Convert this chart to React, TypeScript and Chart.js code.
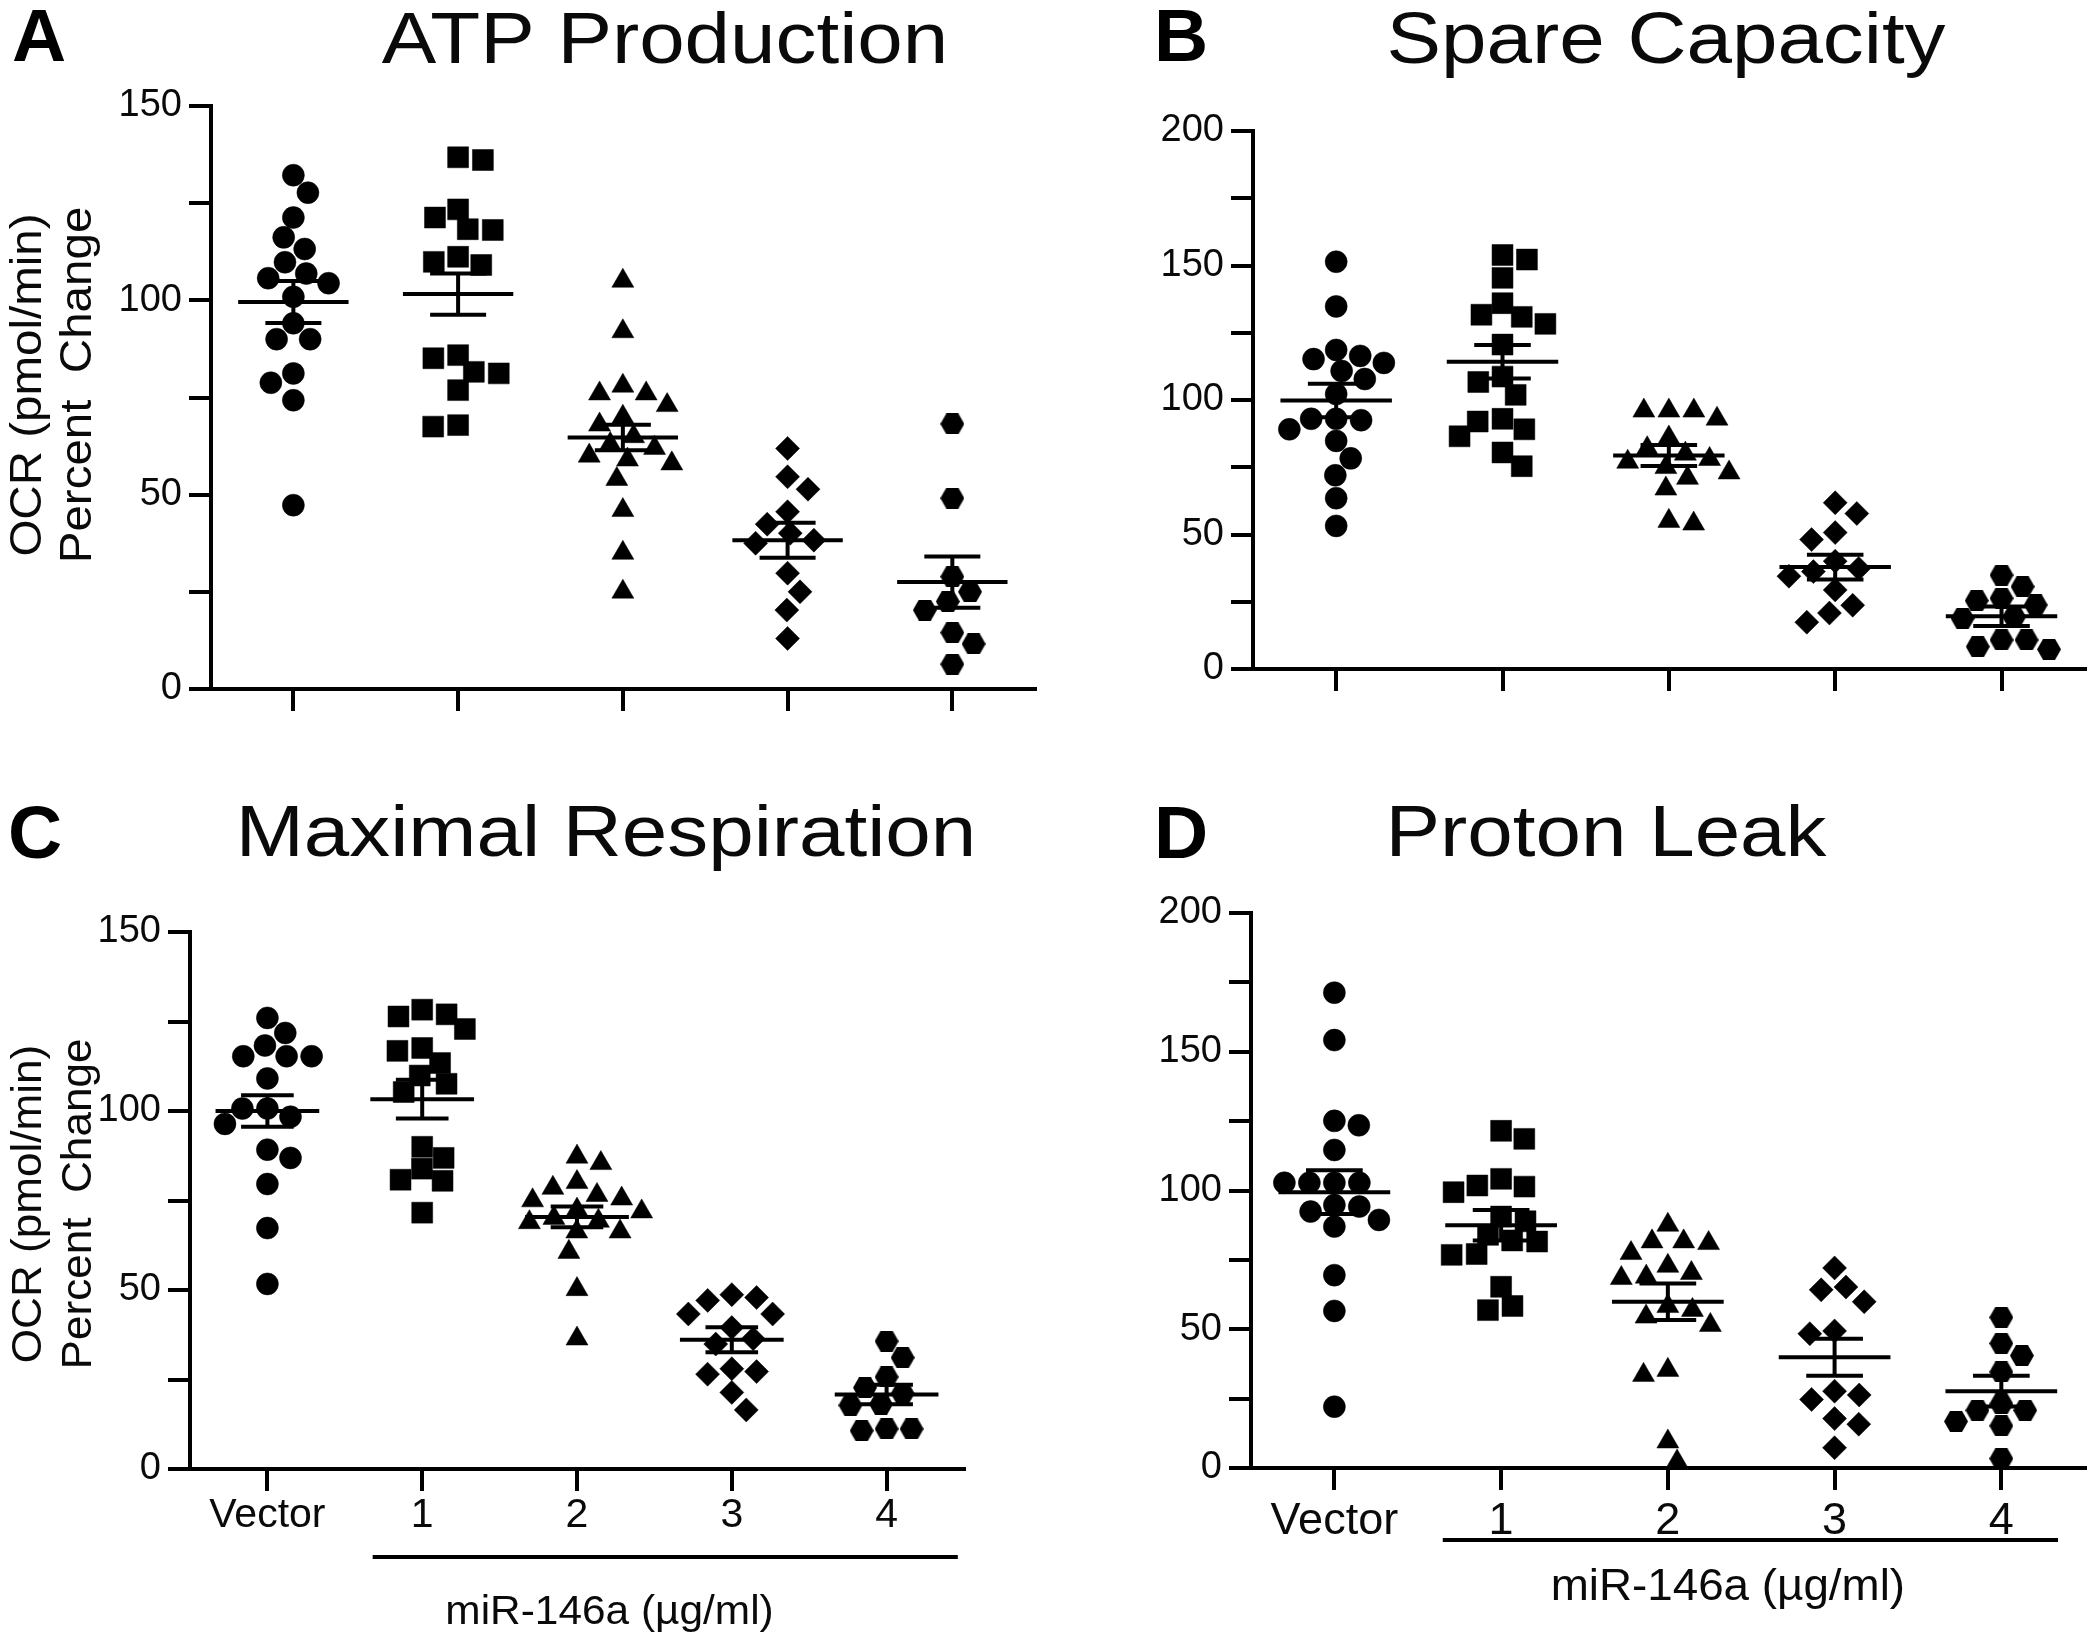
import React, { useEffect, useRef } from 'react';
import { Chart, registerables } from 'chart.js';

Chart.register(...registerables);

const FONT = "'Liberation Sans', Arial, Helvetica, sans-serif";

// ---------- categories & text ----------
const groupLabels = ['Vector', '1', '2', '3', '4'];
const doseLabel = 'miR-146a (µg/ml)';
const yTitleLines = ['OCR (pmol/min)', 'Percent  Change'];
const yTicks150 = [0, 25, 50, 75, 100, 125, 150];
const yTicks200 = [0, 25, 50, 75, 100, 125, 150, 175, 200];

// ---------- A: ATP Production ----------
const atpVector = [132.2, 127.7, 121.3, 116.2, 113.2, 109.8, 106.9, 105.7, 104.4, 100.9, 94.1, 90.0, 90.0, 81.2, 78.8, 74.3, 47.3];
const atpDose1 = [136.8, 136.1, 123.4, 121.3, 118.3, 118.1, 111.2, 109.9, 109.1, 85.9, 85.1, 81.6, 81.2, 76.9, 67.9, 67.5];
const atpDose2 = [105, 92, 78, 76, 76, 73, 70, 68, 65, 63, 62, 60, 59, 58, 54, 46, 35, 25];
const atpDose3 = [61.9, 54.6, 51.4, 45.6, 42.4, 40.1, 38.3, 37.5, 29.8, 25.0, 20.3, 13.0];
const atpDose4 = [68.2, 49.1, 28.9, 25.0, 22.5, 20.3, 14.5, 11.6, 6.4];
const atpMean = [99.6, 101.6, 64.7, 38.3, 27.5];
const atpSem = [5.4, 5.3, 3.3, 4.5, 6.6];

// ---------- B: Spare Capacity ----------
const spareVector = [151.4, 134.8, 118.6, 116.4, 115.2, 113.8, 110.8, 107.8, 102.2, 93.0, 93.0, 92.5, 89.1, 84.8, 78.3, 72.0, 63.5, 53.2];
const spareDose1 = [153.9, 152.2, 145.4, 136.0, 131.7, 130.9, 128.3, 120.6, 108.7, 106.7, 101.9, 93.0, 92.0, 89.1, 86.5, 80.5, 75.4];
const spareDose2 = [96, 96, 96, 93, 86, 82, 80, 78, 77, 75, 73, 71, 67, 55, 54];
const spareDose3 = [61.8, 57.8, 50.7, 48.1, 40.1, 37.4, 36.2, 34.5, 29.4, 23.7, 20.8, 17.4];
const spareDose4 = [34.9, 30.6, 26.3, 25.4, 23.8, 19.4, 18.8, 10.8, 10.8, 8.3, 7.3];
const spareMean = [99.8, 114.2, 79.4, 37.9, 19.6];
const spareSem = [6.2, 6.2, 3.9, 4.6, 3.6];

// ---------- C: Maximal Respiration ----------
const maxVector = [126.0, 121.8, 118.3, 115.3, 115.3, 115.3, 109.1, 100.7, 100.7, 98.4, 96.4, 89.2, 86.9, 79.6, 67.3, 51.7];
const maxDose1 = [128.3, 127.0, 126.4, 122.9, 117.6, 116.8, 113.4, 109.9, 107.6, 105.3, 90.0, 86.9, 83.9, 80.8, 80.5, 71.6];
const maxDose2 = [87.2, 85.4, 80.1, 78.5, 76.5, 75.5, 75.0, 72.4, 71.9, 70.1, 69.3, 68.9, 66.3, 66.3, 60.6, 50.2, 36.4];
const maxDose3 = [48.7, 47.9, 47.1, 43.3, 43.3, 39.5, 36.4, 34.9, 28.0, 27.2, 26.5, 21.4, 16.5];
const maxDose4 = [35.7, 31.1, 25.7, 22.7, 21.1, 18.1, 17.8, 11.2, 11.2, 10.7];
const maxMean = [100.0, 103.3, 70.4, 36.1, 20.8];
const maxSem = [4.4, 5.4, 2.9, 3.5, 2.7];

// ---------- D: Proton Leak ----------
const leakVector = [171.3, 154.2, 125.1, 123.5, 114.6, 102.8, 102.8, 102.8, 102.8, 94.8, 94.2, 92.4, 89.4, 87.0, 69.5, 56.6, 22.1];
const leakDose1 = [121.5, 118.6, 104.2, 101.8, 101.4, 99.4, 90.6, 88.9, 84.0, 82.0, 81.6, 77.1, 76.8, 65.3, 58.4, 56.9];
const leakDose2 = [87.6, 81.6, 81.6, 81.0, 77.4, 72.8, 70.2, 68.9, 68.4, 58.3, 56.9, 54.5, 51.5, 35.3, 33.5, 9.5, 2.3];
const leakDose3 = [72.1, 65.2, 64.2, 59.9, 49.4, 48.4, 27.7, 26.3, 24.7, 17.8, 15.8, 7.3];
const leakDose4 = [54.3, 44.9, 40.5, 34.6, 23.1, 20.8, 20.8, 16.8, 15.2, 3.4];
const leakMean = [99.4, 87.5, 59.9, 39.9, 27.7];
const leakSem = [7.9, 5.5, 6.6, 6.7, 5.5];

// ---------- layout (positions/sizes/styles) ----------
type Panel = {
  letter: string; title: string;
  series: number[][]; mean: number[]; sem: number[];
  yMax: number; yTicks: number[];
  canvas: { left: number; top: number; w: number; h: number };
  plot: { l: number; t: number; r: number; b: number };
  letterPos: { x: number; y: number };
  titlePos: { cx: number; y: number };
  yTitle?: { cy: number; x1: number; x2: number; size: number; sx: number };
  xLabels?: { size: number; pad: number };
  bracket?: { from: number; to: number; dy: number; textAt: number; textDy: number; size: number; sx: number };
};

const panels: Panel[] = [
  {
    letter: 'A', title: 'ATP Production',
    series: [atpVector, atpDose1, atpDose2, atpDose3, atpDose4], mean: atpMean, sem: atpSem,
    yMax: 150, yTicks: yTicks150,
    canvas: { left: 0, top: 0, w: 1050, h: 740 },
    plot: { l: 211, t: 106, r: 1038, b: 689 },
    letterPos: { x: 12, y: 61 }, titlePos: { cx: 665, y: 63 },
    yTitle: { cy: 385, x1: 41, x2: 91, size: 44, sx: 1.08 },
  },
  {
    letter: 'B', title: 'Spare Capacity',
    series: [spareVector, spareDose1, spareDose2, spareDose3, spareDose4], mean: spareMean, sem: spareSem,
    yMax: 200, yTicks: yTicks200,
    canvas: { left: 1050, top: 0, w: 1050, h: 740 },
    plot: { l: 1253, t: 131, r: 2095, b: 669 },
    letterPos: { x: 1154, y: 61 }, titlePos: { cx: 1666, y: 63 },
  },
  {
    letter: 'C', title: 'Maximal Respiration',
    series: [maxVector, maxDose1, maxDose2, maxDose3, maxDose4], mean: maxMean, sem: maxSem,
    yMax: 150, yTicks: yTicks150,
    canvas: { left: 0, top: 740, w: 1050, h: 899 },
    plot: { l: 190, t: 932, r: 964, b: 1469 },
    letterPos: { x: 8, y: 858 }, titlePos: { cx: 606, y: 856 },
    yTitle: { cy: 1204, x1: 41, x2: 91, size: 42, sx: 1.05 },
    xLabels: { size: 41, pad: 0 },
    bracket: { from: 0.68, to: 4.46, dy: 88, textAt: 2.21, textDy: 155, size: 40, sx: 1.06 },
  },
  {
    letter: 'D', title: 'Proton Leak',
    series: [leakVector, leakDose1, leakDose2, leakDose3, leakDose4], mean: leakMean, sem: leakSem,
    yMax: 200, yTicks: yTicks200,
    canvas: { left: 1050, top: 740, w: 1050, h: 899 },
    plot: { l: 1251, t: 913, r: 2088, b: 1468 },
    letterPos: { x: 1154, y: 858 }, titlePos: { cx: 1606, y: 856 },
    xLabels: { size: 45, pad: 5 },
    bracket: { from: 0.65, to: 4.34, dy: 72, textAt: 2.36, textDy: 132, size: 44, sx: 1.04 },
  },
];

const INK = '#000';
const TEXT = '#0a0a0a';

function makeHexagon(w: number, h: number): HTMLCanvasElement {
  const c = document.createElement('canvas');
  c.width = w; c.height = h;
  const g = c.getContext('2d')!;
  g.fillStyle = INK;
  g.beginPath();
  g.moveTo(0, h / 2);
  g.lineTo(w * 0.25, 0);
  g.lineTo(w * 0.75, 0);
  g.lineTo(w, h / 2);
  g.lineTo(w * 0.75, h);
  g.lineTo(w * 0.25, h);
  g.closePath();
  g.fill();
  return c;
}

// deterministic beeswarm: pixel offsets (from group centre) that avoid overlap.
// Collision uses an ellipse (dx/Dx)^2 + (dy/Dy)^2 < 1 so rows spread a little wider.
function swarmOffsets(values: number[], toPx: (v: number) => number, Dx: number, Dy: number): number[] {
  const order = values.map((_, i) => i).sort((a, b) => values[b] - values[a]);
  const placed: { x: number; y: number }[] = [];
  const out = new Array(values.length).fill(0);
  let side = 1;
  for (const i of order) {
    const y = toPx(values[i]);
    const iv: [number, number][] = [];
    for (const p of placed) {
      const dy = Math.abs(p.y - y);
      if (dy < Dy) {
        const dx = Dx * Math.sqrt(1 - (dy / Dy) * (dy / Dy));
        iv.push([p.x - dx, p.x + dx]);
      }
    }
    const cands = [0];
    iv.forEach(([a, b]) => cands.push(a, b));
    cands.sort((a, b) => {
      const da = Math.abs(a) - Math.abs(b);
      if (Math.abs(da) > 0.5) return da;
      return side > 0 ? b - a : a - b;
    });
    let chosen = 0;
    for (const c of cands) {
      if (iv.every(([a, b]) => c <= a + 1e-6 || c >= b - 1e-6)) { chosen = c; break; }
    }
    if (Math.abs(chosen) > 0.5) side = chosen > 0 ? -1 : 1;
    placed.push({ x: chosen, y });
    out[i] = chosen;
  }
  return out;
}

function drawStretched(ctx: CanvasRenderingContext2D, text: string, x: number, y: number, font: string, sx: number, align: CanvasTextAlign, rotate = false) {
  ctx.save();
  ctx.translate(x, y);
  if (rotate) ctx.rotate(-Math.PI / 2);
  ctx.scale(sx, 1);
  ctx.font = font;
  ctx.fillStyle = TEXT;
  ctx.textAlign = align;
  ctx.textBaseline = 'alphabetic';
  ctx.fillText(text, 0, 0);
  ctx.restore();
}

function PanelChart({ p }: { p: Panel }) {
  const ref = useRef<HTMLCanvasElement | null>(null);

  useEffect(() => {
    const canvas = ref.current;
    if (!canvas) return;
    const ox = p.canvas.left, oy = p.canvas.top;
    const hex = makeHexagon(24, 21);
    const styles: any[] = ['circle', 'rect', 'triangle', 'rectRot', hex];
    const radii = [11, 14.8, 12.7, 12, 11];

    const decor = {
      id: 'decor' + p.letter,
      afterDatasetsDraw(chart: any) {
        const ctx: CanvasRenderingContext2D = chart.ctx;
        const xs = chart.scales.x, ys = chart.scales.y;
        const cat = xs.getPixelForValue(1) - xs.getPixelForValue(0);
        ctx.save();
        ctx.strokeStyle = INK;
        ctx.lineWidth = 4;
        ctx.lineCap = 'butt';
        p.mean.forEach((m, i) => {
          const cx = xs.getPixelForValue(i);
          const hw = cat * 0.335, sw = cat * 0.17;
          const ym = ys.getPixelForValue(m);
          const yt = ys.getPixelForValue(m + p.sem[i]);
          const yb = ys.getPixelForValue(m - p.sem[i]);
          ctx.beginPath();
          ctx.moveTo(cx - hw, ym); ctx.lineTo(cx + hw, ym);
          ctx.moveTo(cx, yt); ctx.lineTo(cx, yb);
          ctx.moveTo(cx - sw, yt); ctx.lineTo(cx + sw, yt);
          ctx.moveTo(cx - sw, yb); ctx.lineTo(cx + sw, yb);
          ctx.stroke();
        });
        ctx.restore();
      },
      afterDraw(chart: any) {
        const ctx: CanvasRenderingContext2D = chart.ctx;
        const xs = chart.scales.x;
        const area = chart.chartArea;
        // panel letter
        ctx.save();
        ctx.font = `bold 75px ${FONT}`;
        ctx.fillStyle = INK;
        ctx.textAlign = 'left';
        ctx.textBaseline = 'alphabetic';
        ctx.fillText(p.letter, p.letterPos.x - ox, p.letterPos.y - oy);
        ctx.restore();
        // title
        drawStretched(ctx, p.title, p.titlePos.cx - ox, p.titlePos.y - oy, `73px ${FONT}`, 1.12, 'center');
        // y axis title (two lines)
        if (p.yTitle) {
          const t = p.yTitle;
          drawStretched(ctx, yTitleLines[0], t.x1 - ox, t.cy - oy, `${t.size}px ${FONT}`, t.sx, 'center', true);
          drawStretched(ctx, yTitleLines[1], t.x2 - ox, t.cy - oy, `${t.size}px ${FONT}`, t.sx, 'center', true);
        }
        // dose bracket
        if (p.bracket) {
          const b = p.bracket;
          const y = area.bottom + b.dy;
          ctx.save();
          ctx.strokeStyle = INK;
          ctx.lineWidth = 4;
          ctx.beginPath();
          ctx.moveTo(xs.getPixelForValue(b.from), y);
          ctx.lineTo(xs.getPixelForValue(b.to), y);
          ctx.stroke();
          ctx.restore();
          drawStretched(ctx, doseLabel, xs.getPixelForValue(b.textAt), area.bottom + b.textDy, `${b.size}px ${FONT}`, b.sx, 'center');
        }
      },
    };

    const datasets = p.series.map((vals, gi) => ({
      label: groupLabels[gi],
      data: vals.map((v) => ({ x: gi, y: v })),
      pointStyle: styles[gi],
      pointRadius: radii[gi],
      pointHoverRadius: radii[gi],
      pointBackgroundColor: INK,
      pointBorderColor: INK,
      pointBorderWidth: 0.5,
      showLine: false,
    }));

    const gridCfg = { drawOnChartArea: false, drawTicks: true, tickLength: 22, lineWidth: 4, color: INK };
    const borderCfg = { display: true, width: 4, color: INK };

    const chart = new Chart(canvas, {
      type: 'scatter',
      data: { datasets } as any,
      options: {
        animation: false,
        responsive: false,
        maintainAspectRatio: false,
        events: [],
        layout: {
          padding: {
            top: p.plot.t - oy,
            right: ox + p.canvas.w - p.plot.r,
            bottom: 0,
            left: 0,
          },
        },
        plugins: {
          legend: { display: false },
          tooltip: { enabled: false },
          title: { display: false },
        },
        scales: {
          x: {
            type: 'linear',
            min: -0.5,
            max: 4.5,
            afterBuildTicks: (ax: any) => { ax.ticks = groupLabels.map((_, i) => ({ value: i })); },
            afterFit: (s: any) => { s.height = oy + p.canvas.h - p.plot.b; },
            grid: gridCfg,
            border: borderCfg,
            ticks: {
              display: !!p.xLabels,
              autoSkip: false,
              maxRotation: 0,
              padding: p.xLabels ? p.xLabels.pad : 0,
              color: TEXT,
              font: { family: FONT, size: p.xLabels ? p.xLabels.size : 40 },
              callback: (_v: any, i: number) => groupLabels[i],
            },
          },
          y: {
            type: 'linear',
            min: 0,
            max: p.yMax,
            afterBuildTicks: (ax: any) => { ax.ticks = p.yTicks.map((v) => ({ value: v })); },
            afterFit: (s: any) => { s.width = p.plot.l - ox; },
            grid: gridCfg,
            border: borderCfg,
            ticks: {
              padding: 7,
              color: TEXT,
              font: { family: FONT, size: 38 },
              callback: (v: any) => (Number(v) % 50 === 0 ? String(v) : ''),
            },
          },
        },
      } as any,
      plugins: [decor],
    });

    // lay the points out as a beeswarm using the chart's own scales
    const xs: any = chart.scales.x, ys: any = chart.scales.y;
    const catPx = xs.getPixelForValue(1) - xs.getPixelForValue(0);
    chart.data.datasets.forEach((ds: any, gi: number) => {
      const vals = p.series[gi];
      const offs = swarmOffsets(vals, (v) => ys.getPixelForValue(v), 25, 21.5);
      ds.data = vals.map((v, k) => ({ x: gi + offs[k] / catPx, y: v }));
    });
    chart.update();

    return () => chart.destroy();
  }, [p]);

  return (
    <canvas
      ref={ref}
      width={p.canvas.w}
      height={p.canvas.h}
      style={{ position: 'absolute', left: p.canvas.left, top: p.canvas.top, width: p.canvas.w, height: p.canvas.h, display: 'block' }}
    />
  );
}

export default function App() {
  return (
    <div style={{ position: 'absolute', left: 0, top: 0, width: 2100, height: 1639, background: '#fff', overflow: 'hidden' }}>
      {panels.map((p) => (
        <PanelChart key={p.letter} p={p} />
      ))}
    </div>
  );
}
